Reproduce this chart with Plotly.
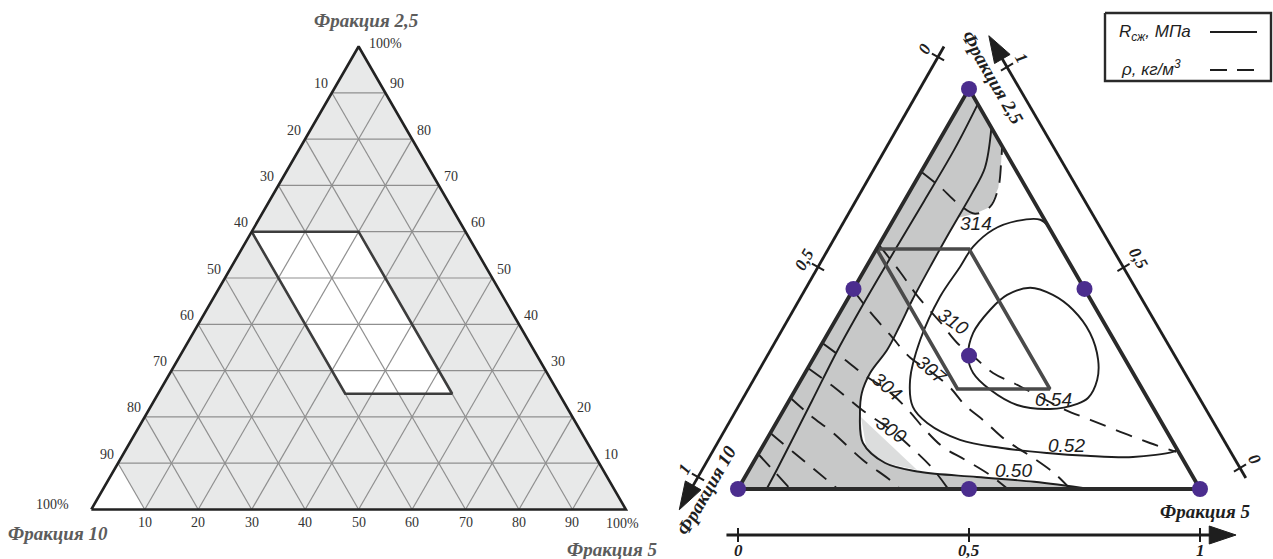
import numpy as np
import plotly.graph_objects as go

H = np.sqrt(3) / 2

# ---------------- left diagram: composition grid ----------------
grid_steps = [0.1, 0.2, 0.3, 0.4, 0.5, 0.6, 0.7, 0.8, 0.9]
grid_labels = ["10", "20", "30", "40", "50", "60", "70", "80", "90"]
full_label = "100%"
zone_a = [0.25, 0.60]       # Фракция 2,5 range of the recommended zone
zone_b = [0.20, 0.40]       # Фракция 10 range of the recommended zone
blank_corner_b = 0.90       # Фракция 10 >= 90 % is left unshaded

# ---------------- right diagram ----------------
# simplex-centroid design points (a = Фракция 2,5, c = Фракция 5)
design_a = [1.0, 0.0, 0.0, 0.5, 0.5, 0.0, 1 / 3]
design_c = [0.0, 0.0, 1.0, 0.0, 0.5, 0.5, 1 / 3]
axis_ticks = ["0", "0,5", "1"]

# compressive strength isolines, MPa
r054_a = [0.33, 0.39, 0.448, 0.485, 0.503, 0.485, 0.448, 0.39, 0.323, 0.273, 0.228, 0.213, 0.2, 0.21, 0.248, 0.29, 0.33]
r054_c = [0.333, 0.314, 0.322, 0.34, 0.381, 0.439, 0.501, 0.567, 0.618, 0.641, 0.644, 0.628, 0.575, 0.499, 0.422, 0.364, 0.333]
r052_a = [0.655, 0.673, 0.67, 0.648, 0.605, 0.555, 0.48, 0.373, 0.273, 0.205, 0.165, 0.123, 0.103, 0.09, 0.083, 0.08, 0.093, 0.098]
r052_c = [0.345, 0.318, 0.269, 0.228, 0.206, 0.203, 0.197, 0.208, 0.236, 0.276, 0.327, 0.419, 0.516, 0.624, 0.714, 0.815, 0.895, 0.902]
r050_a = [0.0, 0.018, 0.03, 0.043, 0.065, 0.115, 0.19, 0.24, 0.29, 0.348, 0.41, 0.473, 0.568, 0.623, 0.678, 0.74, 0.803, 0.903]
r050_c = [0.762, 0.632, 0.502, 0.371, 0.286, 0.213, 0.169, 0.148, 0.141, 0.149, 0.146, 0.141, 0.138, 0.137, 0.137, 0.137, 0.133, 0.097]
# unlabelled strength isoline inside the shaded band
r_low_a = [0.962, 0.85, 0.72, 0.6, 0.47, 0.35, 0.22, 0.12, 0.05, 0.0]
r_low_c = [0.038, 0.044, 0.043, 0.041, 0.04, 0.042, 0.05, 0.056, 0.06, 0.062]

# density isolines, kg/m3
p314_a = [0.793, 0.755, 0.715, 0.688, 0.705, 0.753, 0.815, 0.853]
p314_c = [0.0, 0.06, 0.117, 0.169, 0.193, 0.187, 0.162, 0.145]
p310_a = [0.61, 0.543, 0.48, 0.418, 0.365, 0.328, 0.29, 0.263, 0.23, 0.198, 0.173, 0.143, 0.115, 0.093]
p310_c = [0.0, 0.079, 0.15, 0.228, 0.292, 0.349, 0.407, 0.468, 0.539, 0.609, 0.676, 0.756, 0.834, 0.902]
p307_a = [0.498, 0.443, 0.385, 0.328, 0.293, 0.253, 0.21, 0.168, 0.123, 0.08, 0.038, 0.0]
p307_c = [0.0, 0.064, 0.137, 0.209, 0.271, 0.333, 0.386, 0.451, 0.517, 0.596, 0.667, 0.719]
p304_a = [0.365, 0.323, 0.278, 0.248, 0.198, 0.148, 0.105, 0.073, 0.035, 0.0]
p304_c = [0.0, 0.07, 0.143, 0.199, 0.269, 0.331, 0.391, 0.455, 0.528, 0.584]
p300_a = [0.3025, 0.2525, 0.1975, 0.1475, 0.1025, 0.0525, 0.0]
p300_c = [0.0, 0.084, 0.17, 0.257, 0.325, 0.394, 0.455]
# unlabelled density isolines in the shaded corner
p_low1_a = [0.2275, 0.185, 0.14, 0.0725, 0.0225, 0.0]
p_low1_c = [0.0, 0.063, 0.136, 0.234, 0.318, 0.351]
p_low2_a = [0.14, 0.0925, 0.0475, 0.0]
p_low2_c = [0.0, 0.073, 0.143, 0.216]
p_low3_a = [0.0875, 0.0475, 0.0]
p_low3_c = [0.0, 0.052, 0.113]

strength_levels = {0.54: (r054_a, r054_c), 0.52: (r052_a, r052_c), 0.50: (r050_a, r050_c)}
density_levels = {314: (p314_a, p314_c), 310: (p310_a, p310_c), 307: (p307_a, p307_c),
                  304: (p304_a, p304_c), 300: (p300_a, p300_c)}
density_unlabelled = [(p_low1_a, p_low1_c), (p_low2_a, p_low2_c), (p_low3_a, p_low3_c)]

# lighter patch next to the 0.50 isoline
patch_a = [0.18, 0.105, 0.065, 0.0475]
patch_c = [0.176, 0.225, 0.286, 0.364]

# ---------------- geometry of the two triangles (page pixels) ----------------
LEFT = (91.3, 509.5, 534.6)     # bottom-left corner x, y and side length
RIGHT = (738.0, 489.0, 462.0)


def to_xy(frame, a, c):
    x0, y0, s = frame
    a = np.asarray(a, dtype=float)
    c = np.asarray(c, dtype=float)
    return x0 + s * (c + a / 2), y0 - s * H * a


def segs(frame, pairs):
    xs, ys = [], []
    for (a1, c1), (a2, c2) in pairs:
        x, y = to_xy(frame, [a1, a2], [c1, c2])
        xs += list(x) + [None]
        ys += list(y) + [None]
    return xs, ys


fig = go.Figure()


def line(x, y, color="#222", width=2, dash=None, shape="linear", fill=None, fillcolor=None, mode="lines"):
    fig.add_trace(go.Scatter(x=list(x), y=list(y), mode=mode, hoverinfo="skip", showlegend=False,
                             line=dict(color=color, width=width, dash=dash, shape=shape),
                             fill=fill, fillcolor=fillcolor))


def text(x, y, s, size=13, family="Liberation Serif", color="#333", angle=0, xanchor="center", yanchor="middle"):
    fig.add_annotation(x=x, y=y, text=s, showarrow=False, textangle=angle, xanchor=xanchor, yanchor=yanchor,
                       font=dict(size=size, family=family, color=color))


# ======== left diagram ========
tx, ty = to_xy(LEFT, [0, 1, 0, 0], [0, 0, 1, 0])
line(tx, ty, color="rgba(0,0,0,0)", width=0, fill="toself", fillcolor="#e8e9e9")

bx, by = to_xy(LEFT, [0, 1 - blank_corner_b, 0, 0], [0, 0, 1 - blank_corner_b, 0])
line(bx, by, color="rgba(0,0,0,0)", width=0, fill="toself", fillcolor="white")

a_lo, a_hi = zone_a
b_lo, b_hi = zone_b
za = [a_hi, a_hi, a_lo, a_lo, a_hi]
zb = [b_hi, b_lo, b_lo, b_hi, b_hi]
zc = [1 - a - b for a, b in zip(za, zb)]
zx, zy = to_xy(LEFT, za, zc)
line(zx, zy, color="rgba(0,0,0,0)", width=0, fill="toself", fillcolor="white")

pairs = []
for f in grid_steps:
    pairs.append(((f, 0), (f, 1 - f)))          # constant Фракция 2,5
    pairs.append(((1 - f, 0), (0, 1 - f)))      # constant Фракция 10
    pairs.append(((0, f), (1 - f, f)))          # constant Фракция 5
gx, gy = segs(LEFT, pairs)
line(gx, gy, color="#8f8f8f", width=1.2)

line(zx, zy, color="#3d3d3d", width=2.6)
line(tx, ty, color="#222", width=2.6)

for f, lab in zip(grid_steps, grid_labels):
    x, y = to_xy(LEFT, 1 - f, 0)
    text(float(x) - 2, float(y) - 9, lab, size=14, xanchor="right")
    x, y = to_xy(LEFT, f, 1 - f)
    text(float(x) + 3, float(y) - 9, lab, size=14, xanchor="left")
    x, y = to_xy(LEFT, 0, f)
    text(float(x), float(y) + 13, lab, size=14)

x, y = to_xy(LEFT, 1, 0)
text(float(x) + 8, float(y) - 3, full_label, size=14, xanchor="left")
x, y = to_xy(LEFT, 0, 0)
text(float(x) - 20, float(y) - 5, full_label, size=14, xanchor="right")
x, y = to_xy(LEFT, 0, 1)
text(float(x) - 3, float(y) + 14, full_label, size=14)

title_font = dict(size=19, family="Liberation Serif", color="#5c5c5c")
text(366, 20, "<b><i>Фракция 2,5</i></b>", **title_font)
text(58, 533, "<b><i>Фракция 10</i></b>", **title_font)
text(612, 549, "<b><i>Фракция 5</i></b>", **title_font)

# ======== right diagram ========
fa = [1.0] + p314_a[3:][::-1] + r050_a[:15][::-1] + [0.0, 1.0]
fc = [0.0] + p314_c[3:][::-1] + r050_c[:15][::-1] + [0.0, 0.0]
fx, fy = to_xy(RIGHT, fa, fc)
line(fx, fy, color="rgba(0,0,0,0)", width=0, fill="toself", fillcolor="#c7c8c8")
px_, py_ = to_xy(RIGHT, patch_a + patch_a[:1], patch_c + patch_c[:1])
line(px_, py_, color="rgba(0,0,0,0)", width=0, fill="toself", fillcolor="#dcdddd")

DASH = "17px,11px"
for lvl, (a, c) in density_levels.items():
    x, y = to_xy(RIGHT, a, c)
    line(x, y, color="#1e1e1e", width=1.9, dash=DASH, shape="spline")
for a, c in density_unlabelled:
    x, y = to_xy(RIGHT, a, c)
    line(x, y, color="#1e1e1e", width=1.9, dash=DASH, shape="spline")
for lvl, (a, c) in strength_levels.items():
    x, y = to_xy(RIGHT, a, c)
    line(x, y, color="#1e1e1e", width=1.9, shape="spline")
x, y = to_xy(RIGHT, r_low_a, r_low_c)
line(x, y, color="#1e1e1e", width=1.9, shape="spline")

rx, ry = to_xy(RIGHT, za, zc)
line(rx, ry, color="#4a4a4a", width=3.6)
tx2, ty2 = to_xy(RIGHT, [0, 1, 0, 0], [0, 0, 1, 0])
line(tx2, ty2, color="#2a2a2a", width=3.8)

dx, dy = to_xy(RIGHT, design_a, design_c)
fig.add_trace(go.Scatter(x=dx, y=dy, mode="markers", hoverinfo="skip", showlegend=False,
                         marker=dict(size=16, color="#4b2d8e", line=dict(width=0))))

label_pos = {314: (0.6625, 0.184, 0), 310: (0.4175, 0.257, 35), 307: (0.2975, 0.269, 40),
             304: (0.255, 0.195, 40), 300: (0.1475, 0.257, 35)}
for lvl, (a, c, ang) in label_pos.items():
    x, y = to_xy(RIGHT, a, c)
    text(float(x), float(y), f"<i>{lvl}</i>", size=19, family="Liberation Sans", color="#1e1e1e", angle=ang)
label_pos_r = {0.54: (0.2225, 0.571), 0.52: (0.1075, 0.658), 0.50: (0.0475, 0.572)}
for lvl, (a, c) in label_pos_r.items():
    x, y = to_xy(RIGHT, a, c)
    text(float(x), float(y), f"<i>{lvl:.2f}</i>", size=19, family="Liberation Sans", color="#1e1e1e")


# outer axes with arrows
def outer_axis(p0, p1, normal, angle, lab_off, tick_len=7):
    p0 = np.array(p0, float)
    p1 = np.array(p1, float)
    d = p1 - p0
    u = d / np.linalg.norm(d)
    n = np.array(normal, float)
    s, e = p0 - 0.025 * d, p0 + 1.03 * d
    line([s[0], e[0]], [s[1], e[1]], color="#1e1e1e", width=2.8)
    tip, base = p0 + 1.078 * d, p0 + 1.02 * d
    w = np.array([-u[1], u[0]]) * 9
    line([tip[0], base[0] + w[0], base[0] - w[0], tip[0]], [tip[1], base[1] + w[1], base[1] - w[1], tip[1]],
         color="#1e1e1e", width=1, fill="toself", fillcolor="#1e1e1e")
    for t, lab in zip([0, 0.5, 1], axis_ticks):
        q = p0 + t * d
        k = np.array([-u[1], u[0]]) * tick_len
        line([q[0] - k[0], q[0] + k[0]], [q[1] - k[1], q[1] + k[1]], color="#1e1e1e", width=2)
        lp = q + n * lab_off
        text(lp[0], lp[1], f"<b><i>{lab}</i></b>", size=17, color="#1e1e1e", angle=angle)


outer_axis((938, 57), (698, 477), (-0.868, -0.496), -60, 16)
outer_axis((1240, 468), (1007, 67), (0.865, -0.502), 60, 17)
outer_axis((738, 535), (1200, 535), (0, 1), 0, 15)

axis_font = dict(size=19, family="Liberation Serif", color="#1e1e1e")
text(993, 77, "<b><i>Фракция 2,5</i></b>", angle=60, **axis_font)
text(706, 490, "<b><i>Фракция 10</i></b>", angle=-60, **axis_font)
text(1205, 511, "<b><i>Фракция 5</i></b>", **axis_font)

# legend box
line([1105, 1271, 1271, 1105, 1105], [13, 13, 81, 81, 13], color="#2a2a2a", width=2.4)
line([1210, 1257], [32, 32], color="#1e1e1e", width=2)
line([1210, 1257], [70, 70], color="#1e1e1e", width=2, dash="17px,10px")
text(1117, 33, "<i>R<sub>сж</sub>, МПа</i>", size=17, family="Liberation Sans", color="#1e1e1e", xanchor="left")
text(1119, 68, "<i>ρ, кг/м<sup>3</sup></i>", size=17, family="Liberation Sans", color="#1e1e1e", xanchor="left")

fig.update_layout(
    width=1273, height=559, autosize=False,
    margin=dict(l=0, r=0, t=0, b=0),
    paper_bgcolor="white", plot_bgcolor="white",
    xaxis=dict(range=[0, 1273], visible=False, fixedrange=True),
    yaxis=dict(range=[559, 0], visible=False, fixedrange=True),
)
fig.write_html("out.html")
